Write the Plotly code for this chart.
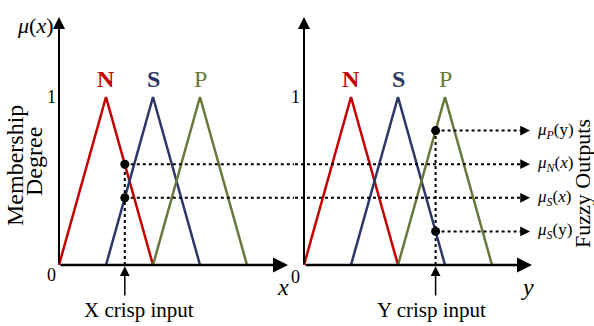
import numpy as np
import plotly.graph_objects as go

# ---- data -------------------------------------------------------------
sets = ["N", "S", "P"]
set_colors = {"N": "#c40000", "S": "#2b3768", "P": "#66793a"}
set_bold = {"N": True, "S": True, "P": False}

# triangle break points (left foot, peak, right foot) on each universe
x_breaks = {"N": [0, 1, 2], "S": [1, 2, 3], "P": [2, 3, 4]}
y_breaks = {"N": [0, 1, 2], "S": [1, 2, 3], "P": [2, 3, 4]}
tri_mu = [0, 1, 0]

x_crisp = 1.4
y_crisp = 2.8

# fuzzy outputs that are carried to the right-hand labels
outputs = [
    ("y", "P", "<i>μ<sub>P</sub></i>(y)"),
    ("x", "N", "<i>μ<sub>N</sub></i>(<i>x</i>)"),
    ("x", "S", "<i>μ<sub>S</sub></i>(<i>x</i>)"),
    ("y", "S", "<i>μ<sub>S</sub></i>(y)"),
]

# ---- geometry of the two panels ---------------------------------------
W, H = 594, 326
PXU = 47.0          # pixels per universe unit
PYU = 168.0         # pixels per membership unit
split = 294         # pixel where left panel ends / right panel starts
x0_left, x0_right, y0_pix = 59, 304, 265

xr_left = [-x0_left / PXU, (split - x0_left) / PXU]
xr_right = [(split - x0_right) / PXU, (W - x0_right) / PXU]
yr = [-(H - y0_pix) / PYU, y0_pix / PYU]

x_axis_end = (288 - x0_left) / PXU
y_axis_end_r = (532 - x0_right) / PXU
v_axis_top = (y0_pix - 17) / PYU
out_end = (530 - x0_right) / PXU

FONT = "Liberation Serif, Times New Roman, serif"


def memb(v, brk):
    return float(np.interp(v, brk, tri_mu))


fig = go.Figure()

# membership triangles
for s in sets:
    fig.add_trace(go.Scatter(x=x_breaks[s], y=tri_mu, mode="lines",
                             line=dict(color=set_colors[s], width=2.5),
                             xaxis="x", yaxis="y", hoverinfo="skip"))
    fig.add_trace(go.Scatter(x=y_breaks[s], y=tri_mu, mode="lines",
                             line=dict(color=set_colors[s], width=2.5),
                             xaxis="x2", yaxis="y2", hoverinfo="skip"))

dot_line = dict(color="black", width=2, dash="dot")

# vertical dotted projections from the crisp inputs
mx = [memb(x_crisp, x_breaks[s]) for s in sets]
my = [memb(y_crisp, y_breaks[s]) for s in sets]
fig.add_trace(go.Scatter(x=[x_crisp, x_crisp], y=[0, max(mx)], mode="lines",
                         line=dot_line, xaxis="x", yaxis="y"))
fig.add_trace(go.Scatter(x=[y_crisp, y_crisp], y=[0, max(my)], mode="lines",
                         line=dot_line, xaxis="x2", yaxis="y2"))

annotations = []
for univ, s, label in outputs:
    if univ == "x":
        m = memb(x_crisp, x_breaks[s])
        # left panel segment (runs to the panel edge, clipped there)
        fig.add_trace(go.Scatter(x=[x_crisp, xr_left[1] + 1], y=[m, m],
                                 mode="lines", line=dot_line,
                                 xaxis="x", yaxis="y"))
        fig.add_trace(go.Scatter(x=[x_crisp], y=[m], mode="markers",
                                 marker=dict(color="black", size=9),
                                 xaxis="x", yaxis="y"))
        start = xr_right[0] - 1
    else:
        m = memb(y_crisp, y_breaks[s])
        fig.add_trace(go.Scatter(x=[y_crisp], y=[m], mode="markers",
                                 marker=dict(color="black", size=9),
                                 xaxis="x2", yaxis="y2"))
        start = y_crisp
    fig.add_trace(go.Scatter(x=[start, out_end - 0.1], y=[m, m], mode="lines",
                             line=dot_line, xaxis="x2", yaxis="y2"))
    annotations.append(dict(x=out_end, y=m, ax=out_end - 0.2, ay=m,
                            xref="x2", yref="y2", axref="x2", ayref="y2",
                            showarrow=True, arrowhead=2, arrowsize=1.3,
                            arrowwidth=1.5, arrowcolor="black", text=""))
    annotations.append(dict(x=out_end + 0.1, y=m, xref="x2", yref="y2",
                            text=label, showarrow=False, xanchor="left",
                            yanchor="middle",
                            font=dict(family=FONT, size=17, color="black")))

# axes with arrow heads
for xr_, yr_, xe in (("x", "y", x_axis_end), ("x2", "y2", y_axis_end_r)):
    annotations.append(dict(x=xe, y=0, ax=0, ay=0, xref=xr_, yref=yr_,
                            axref=xr_, ayref=yr_, showarrow=True,
                            arrowhead=2, arrowsize=1.2, arrowwidth=2.5,
                            arrowcolor="black", text=""))
    annotations.append(dict(x=0, y=v_axis_top, ax=0, ay=0, xref=xr_, yref=yr_,
                            axref=xr_, ayref=yr_, showarrow=True,
                            arrowhead=2, arrowsize=1.2, arrowwidth=2,
                            arrowcolor="black", text=""))

# crisp input arrows
tail = (y0_pix - 297) / PYU
for xr_, yr_, c in (("x", "y", x_crisp), ("x2", "y2", y_crisp)):
    annotations.append(dict(x=c, y=-0.008, ax=c, ay=tail, xref=xr_, yref=yr_,
                            axref=xr_, ayref=yr_, showarrow=True,
                            arrowhead=2, arrowsize=1.3, arrowwidth=1.5,
                            arrowcolor="black", text=""))


def txt(x, y, text, xref="x", yref="y", size=18, color="black", **kw):
    d = dict(x=x, y=y, xref=xref, yref=yref, text=text, showarrow=False,
             xanchor="center", yanchor="middle",
             font=dict(family=FONT, size=size, color=color))
    d.update(kw)
    annotations.append(d)


# set names above the peaks
for s in sets:
    label = f"<b>{s}</b>" if set_bold[s] else s
    txt(x_breaks[s][1], (y0_pix - 79) / PYU, label, "x", "y", 24, set_colors[s])
    txt(y_breaks[s][1], (y0_pix - 79) / PYU, label, "x2", "y2", 24, set_colors[s])

# tick values
txt(-0.02, 1.0, "1", "x", "y", 18, xanchor="right")
txt(-0.02, -0.06, "0", "x", "y", 18, xanchor="right")
txt(-0.04, 1.0, "1", "x2", "y2", 18, xanchor="right")
txt(-0.04, -0.07, "0", "x2", "y2", 18, xanchor="right")

# axis titles
txt(-0.51, (y0_pix - 25) / PYU, "<i>μ</i>(<i>x</i>)", "x", "y", 22)
txt(-0.47, (y0_pix - 25) / PYU, "<i>μ</i>(y)", "x2", "y2", 22)
txt((283 - x0_left) / PXU, (y0_pix - 287) / PYU, "<i>x</i>", "x", "y", 24)
txt((527 - x0_right) / PXU, (y0_pix - 287) / PYU, "<i>y</i>", "x2", "y2", 24)

txt((138.5 - x0_left) / PXU, (y0_pix - 310) / PYU, "X crisp input", "x", "y", 21)
txt((431.5 - x0_right) / PXU, (y0_pix - 310) / PYU, "Y crisp input", "x2", "y2", 21)

txt(15 / W, 1 - 166 / H, "Membership", "paper", "paper", 24, textangle=-90)
txt(34 / W, 1 - 162 / H, "Degree", "paper", "paper", 24, textangle=-90)
txt(582 / W, 1 - 184 / H, "Fuzzy Outputs", "paper", "paper", 22, textangle=-90)

axis_common = dict(visible=False, showgrid=False, zeroline=False, fixedrange=True)
fig.update_layout(
    width=W, height=H, margin=dict(l=0, r=0, t=0, b=0),
    paper_bgcolor="white", plot_bgcolor="white", showlegend=False,
    xaxis=dict(domain=[0, split / W], range=xr_left, **axis_common),
    xaxis2=dict(domain=[split / W, 1], range=xr_right, **axis_common),
    yaxis=dict(domain=[0, 1], range=yr, anchor="x", **axis_common),
    yaxis2=dict(domain=[0, 1], range=yr, anchor="x2", **axis_common),
    annotations=annotations,
)

fig.write_html("out.html")
